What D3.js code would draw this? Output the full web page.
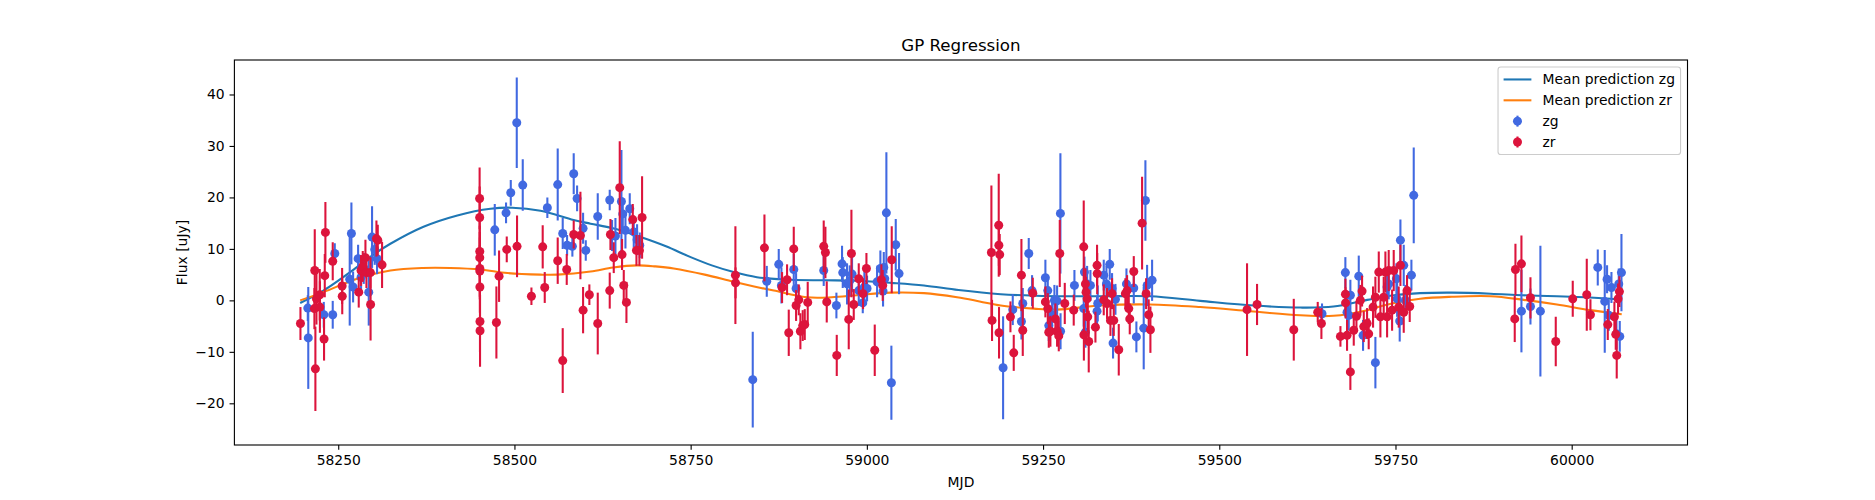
<!DOCTYPE html>
<html>
<head>
<meta charset="utf-8">
<script src="https://cdn.jsdelivr.net/npm/d3@7"></script>
<style>
  body { margin: 0; background: #fff; }
  svg text { font-family: "DejaVu Sans", sans-serif; fill: #000; }
</style>
</head>
<body>
<svg id="chart-svg" width="1875" height="500"></svg>
<script>
// zg band observations (MJD, flux, 1-sigma error)
const zgMjd = [58206.8, 58207.5, 58229.5, 58242.2, 58245.1, 58266.3, 58268.7, 58271.1, 58278.2, 58282.4, 58286.2, 58293.3, 58298.0, 58301.8, 58305.1,
  58472.1, 58488.1, 58494.8, 58503.3, 58511.8, 58546.7, 58561.4, 58568.5, 58574.7, 58582.2, 58584.1, 58588.9, 58597.4, 58601.2, 58618.2, 58635.2,
  58638.5, 58643.3, 58651.8, 58653.7, 58657.5, 58663.6, 58669.3, 58674.0, 58677.8,
  58838.1, 58858.0, 58875.0, 58878.8, 58896.3, 58899.6, 58938.8, 58956.8, 58964.8, 58965.8, 58971.9, 58975.7, 58979.0, 58988.5, 58994.2, 58996.5, 59000.3, 59014.5, 59019.2, 59023.0, 59024.0, 59025.4, 59027.7, 59034.8, 59041.0, 59045.7,
  59193.3, 59207.0, 59219.3, 59221.2, 59229.7, 59234.4, 59253.3, 59256.7, 59258.1, 59262.8, 59266.1, 59269.9, 59274.6, 59274.8, 59294.5, 59307.7, 59308.7, 59310.1, 59312.5, 59317.2, 59326.6, 59327.6, 59336.1, 59339.9, 59344.6, 59347.9, 59349.3, 59352.7, 59368.3, 59378.7, 59382.4, 59392.8, 59395.2, 59397.6, 59404.7,
  59645.8, 59678.9, 59681.3, 59683.7, 59686.0, 59697.9, 59704.0, 59721.5, 59738.1, 59740.4, 59751.3, 59752.3, 59756.0, 59757.0, 59761.7, 59764.1, 59772.6, 59775.9,
  59928.7, 59941.5, 59955.6, 60037.0, 60046.9, 60050.2, 60052.6, 60056.4, 60063.5, 60066.8, 60068.2, 60070.6];
const zgFlux = [-1.5, -7.3, -2.8, -2.8, 9.1, 4.1, 13.0, 2.6, 8.1, 4.5, 6.2, 1.6, 12.3, 9.9, 8.1,
  13.7, 17.0, 20.9, 34.5, 22.4, 18.0, 22.5, 13.0, 10.7, 10.5, 24.6, 19.8, 14.0, 9.7, 16.3, 19.5,
  12.6, 12.5, 19.2, 16.8, 13.6, 17.8, 13.3, 11.8, 10.7,
  -15.4, 3.7, 7.0, 2.9, 6.0, 2.3, 5.8, -1.0, 7.1, 5.4, 3.2, 3.8, 5.1, 1.9, -0.5, 2.6, 2.3, 3.6, 6.2, 1.8, 6.4, 4.2, 17.0, -16.0, 10.8, 5.2,
  -13.1, -1.8, -4.1, -0.6, 9.1, 1.9, 4.4, 1.9, -4.9, -2.9, 0.0, -0.1, 16.9, -6.0, 2.9, -1.6, 5.5, -6.2, 3.2, 2.9, -2.1, -0.6, 4.9, 3.2, 7.0, 2.3, -8.3, 0.2, 3.2, 2.4, -7.1, -5.4, 19.4, 2.9, 3.9,
  -2.6, 5.4, -2.3, -2.9, 1.0, 4.7, -6.8, -12.1, 2.6, 3.2, 4.2, 0.3, -4.0, 11.7, 6.8, 0.0, 4.9, 20.4,
  -2.1, -1.2, -2.1, 6.4, -0.2, 4.1, -2.9, 2.5, -6.5, 3.2, -7.0, 5.4];
const zgErr = [2.5, 9.9, 2.5, 2.7, 2.0, 9.0, 6.0, 3.0, 2.7, 3.0, 3.0, 6.5, 6.0, 3.0, 3.0,
  5.0, 2.0, 2.5, 8.8, 5.0, 2.0, 7.0, 3.0, 2.0, 2.0, 4.0, 2.5, 3.0, 2.0, 4.5, 2.0,
  3.0, 3.5, 10.0, 3.0, 3.5, 3.0, 3.0, 3.0, 2.5,
  9.3, 3.0, 3.0, 3.5, 3.0, 3.0, 3.0, 2.5, 3.5, 3.0, 4.0, 3.0, 3.5, 3.0, 2.0, 3.0, 2.5, 3.0, 3.5, 3.0, 3.0, 3.0, 11.8, 7.2, 5.0, 4.0,
  10.0, 3.0, 3.5, 3.0, 3.0, 3.0, 3.5, 3.0, 3.0, 3.5, 3.0, 3.0, 11.7, 3.5, 3.0, 3.5, 3.0, 3.0, 3.5, 3.0, 3.0, 3.5, 3.0, 3.5, 3.0, 3.0, 3.0, 3.0, 3.0, 3.0, 3.0, 8.0, 7.8, 4.0, 4.0,
  2.0, 3.0, 4.0, 3.0, 3.0, 4.0, 3.0, 5.0, 3.5, 3.0, 3.0, 3.5, 4.0, 4.0, 4.0, 3.0, 3.0, 9.3,
  8.0, 3.5, 12.7, 3.5, 10.0, 2.7, 3.0, 3.0, 3.0, 3.0, 3.0, 7.5];

// zr band observations (MJD, flux, 1-sigma error)
const zrMjd = [58196.4, 58216.2, 58216.7, 58217.6, 58219.1, 58223.8, 58224.0, 58229.9, 58230.9, 58231.8, 58242.2, 58255.5, 58255.7, 58279.1, 58282.4, 58284.8, 58288.6, 58290.0, 58295.7, 58295.9, 58304.2, 58306.1, 58312.2,
  58450.6, 58450.7, 58450.8, 58450.8, 58450.9, 58450.9, 58451.0, 58451.1, 58451.2,
  58474.4, 58478.2, 58489.1, 58503.7, 58524.1, 58540.1, 58543.0, 58561.4, 58568.5, 58574.2, 58584.1, 58593.6, 58597.4, 58606.3, 58618.2, 58635.2, 58636.2,
  58640.9, 58649.4, 58652.7, 58655.1, 58658.9, 58667.9, 58673.1, 58677.3, 58681.1, 58813.5, 58813.7, 58854.7, 58879.7, 58886.8, 58889.2, 58896.3, 58899.6, 58903.4, 58905.7, 58909.0, 58911.9, 58916.1,
  58938.8, 58941.2, 58943.1, 58957.3, 58974.3, 58978.1, 58981.4, 58988.5, 58994.6, 58999.4, 59011.2, 59020.6, 59022.5, 59035.3, 59176.7, 59177.6, 59187.1, 59187.3, 59187.5, 59188.5,
  59203.7, 59208.4, 59219.3, 59221.2, 59235.4, 59253.3, 59256.7, 59258.1, 59260.4, 59267.5, 59269.9, 59272.3, 59273.7, 59280.8, 59293.5, 59307.7, 59307.9, 59310.1, 59311.0, 59312.5,
  59313.4, 59314.8, 59324.3, 59326.6, 59326.8, 59336.1, 59340.8, 59345.6, 59347.9, 59350.3, 59357.4, 59366.8, 59369.2, 59371.6, 59373.0, 59378.7, 59390.5, 59396.2, 59399.9, 59402.3,
  59539.4, 59553.6, 59605.7, 59639.7, 59644.9,
  59671.9, 59679.0, 59679.2, 59681.3, 59686.0, 59690.8, 59694.6, 59700.2, 59702.6, 59705.0, 59709.7, 59712.0, 59718.2, 59721.5, 59726.3, 59728.6, 59733.3, 59735.7, 59738.1, 59740.4,
  59745.2, 59747.5, 59754.6, 59757.0, 59761.7, 59766.4, 59770.2,
  59919.2, 59920.2, 59928.7, 59941.5, 59977.4, 60001.5, 60021.4, 60026.6, 60051.2, 60060.6, 60062.5, 60063.9, 60065.8, 60067.7];
const zrFlux = [-4.5, -1.6, 5.8, -13.3, 0.3, 1.1, -1.3, -7.5, 4.8, 13.2, 7.6, 2.8, 0.8, 1.6, 5.8, 6.6, 8.3, 5.4, 5.4, -0.8, 12.0, 11.7, 6.9,
  19.8, 16.1, 9.5, 8.3, 6.2, 5.7, 2.6, -4.1, -5.9,
  -4.3, 4.7, 9.9, 10.5, 0.8, 10.4, 2.5, 7.7, -11.7, 6.0, 12.8, 12.6, -1.9, 1.1, -4.5, 1.9, 12.8,
  8.3, 21.9, 8.9, 2.9, -0.4, 15.7, 9.7, 9.7, 16.1, 4.9, 3.4, 10.2, 2.5, 4.0, -6.3, 10.0, -1.0, 0.1, -6.0, -4.9, -4.7, -0.4,
  10.5, 9.3, -0.3, -10.7, -3.7, 9.1, -0.8, 4.2, 1.3, 6.2, -9.7, 4.0, 2.9, 7.9, 9.3, -3.9, 14.6, 10.7, -6.3, 8.9,
  -3.2, -10.2, 4.9, -5.8, 1.4, -0.3, -1.6, -6.2, -6.0, -3.6, -6.0, -6.9, 9.1, -0.6, -1.9, 10.4, -6.7, 3.2, 1.6, 0.3,
  -3.2, -8.0, -5.2, 6.8, 5.2, 0.1, -0.6, -3.9, 1.3, -3.9, -9.6, 1.3, 1.9, -1.6, -3.6, 5.6, 15.0, 1.3, -2.8, -5.7,
  -1.8, -0.8, -5.7, -2.3, -4.5,
  -7.0, 1.2, -0.5, -6.8, -13.9, -5.8, -3.1, 0.0, 1.8, -5.1, -4.5, -6.5, -1.3, 0.6, 5.5, -3.2, 0.6, 5.5, -3.2, 5.8,
  -1.9, 5.8, -1.3, 6.8, -2.3, 1.9, -1.2,
  -3.6, 6.0, 7.1, 0.5, -8.0, 0.3, 1.1, -2.8, -4.7, -3.2, -6.6, -10.7, 0.3, 1.7];
const zrErr = [3.2, 4.0, 8.0, 8.2, 5.0, 5.0, 5.0, 4.2, 4.2, 5.9, 3.7, 3.5, 3.5, 3.0, 3.0, 3.0, 3.5, 3.0, 3.0, 7.0, 3.5, 3.0, 4.5,
  6.0, 6.0, 5.0, 5.0, 6.0, 5.0, 5.0, 6.0, 7.0,
  7.0, 5.0, 2.5, 6.0, 1.7, 4.2, 3.0, 4.5, 6.3, 3.0, 2.7, 8.5, 4.5, 2.0, 6.0, 3.5, 3.0,
  3.0, 9.0, 3.0, 3.0, 4.0, 3.0, 3.0, 3.0, 8.0, 9.5, 3.0, 6.5, 3.0, 3.0, 4.5, 4.3, 3.0, 3.0, 3.5, 3.0, 3.0, 4.0,
  5.0, 5.0, 4.0, 4.0, 5.8, 8.5, 3.0, 3.0, 3.0, 3.0, 5.0, 3.0, 3.0, 6.5, 13.0, 4.0, 10.0, 4.0, 5.0, 4.0,
  3.0, 3.5, 7.0, 5.0, 3.0, 3.0, 3.0, 3.0, 3.0, 3.0, 3.0, 3.0, 6.5, 4.0, 3.0, 9.0, 5.0, 3.0, 3.0, 3.0,
  3.0, 6.0, 3.0, 4.0, 4.0, 3.0, 3.0, 3.0, 3.0, 3.0, 5.0, 3.0, 3.0, 3.0, 3.0, 3.0, 9.0, 3.0, 3.0, 4.5,
  9.0, 4.0, 6.0, 2.0, 3.0,
  2.0, 3.0, 3.0, 3.0, 3.5, 3.0, 3.0, 3.0, 3.0, 3.0, 3.0, 3.0, 4.0, 4.0, 4.0, 4.0, 4.0, 4.0, 4.0, 4.0,
  4.0, 4.0, 4.0, 4.0, 4.0, 3.0, 3.0,
  4.5, 5.0, 5.5, 4.0, 4.8, 3.5, 7.0, 3.0, 3.0, 3.0, 3.0, 4.5, 3.0, 3.0];

// GP mean predictions
const gpMjdZg = [58196, 58229, 58277, 58300, 58324, 58371, 58419, 58466, 58497, 58537, 58584, 58608, 58640, 58679, 58715, 58750, 58780, 58811, 58844, 58892, 58940, 58986, 59035, 59081, 59130, 59190, 59240, 59284, 59340, 59402, 59473, 59549, 59615, 59662, 59710, 59748, 59785, 59830, 59885, 59930, 59979, 60020, 60055, 60071];
const gpZg = [-0.5, 1.9, 6.5, 8.9, 11.0, 14.3, 16.5, 17.8, 18.0, 17.4, 15.6, 14.9, 14.0, 12.3, 10.5, 8.4, 6.8, 5.5, 4.5, 4.0, 3.9, 3.8, 3.4, 2.9, 2.0, 1.2, 0.9, 0.8, 0.8, 0.8, -0.1, -1.0, -1.4, -1.2, 0.1, 1.0, 1.4, 1.5, 1.3, 1.0, 0.8, 0.6, 0.3, 0.1];
const gpMjdZr = [58196, 58229, 58277, 58324, 58370, 58409, 58452, 58490, 58537, 58561, 58608, 58640, 58674, 58700, 58726, 58770, 58811, 58840, 58868, 58915, 58950, 58986, 59033, 59081, 59128, 59160, 59190, 59237, 59270, 59331, 59402, 59473, 59544, 59615, 59662, 59710, 59733, 59785, 59830, 59885, 59932, 59979, 60026, 60071];
const gpZr = [0.0, 1.6, 4.2, 5.8, 6.3, 6.3, 6.0, 5.3, 5.0, 5.0, 5.6, 6.4, 6.8, 6.6, 6.2, 5.0, 3.6, 2.7, 1.9, 0.6, 0.6, 1.0, 1.5, 1.4, 0.6, -0.2, -1.0, -1.6, -1.8, -1.0, -0.8, -1.3, -2.1, -2.9, -3.0, -1.9, -1.0, 0.3, 0.7, 0.8, 0.1, -0.8, -1.9, -2.7];

const xTicks = [58250, 58500, 58750, 59000, 59250, 59500, 59750, 60000];
const yTicks = [-20, -10, 0, 10, 20, 30, 40];

// figure geometry (matplotlib default subplot box on a 1875x500 canvas)
const W = 1875, H = 500;
const margin = {left: 234.4, right: 1875 - 1687.5, top: 60, bottom: 500 - 445};
const x0 = margin.left, x1 = W - margin.right, y0 = margin.top, y1 = H - margin.bottom;
const fs = 13.9;           // 10pt at 100 dpi
const tickLen = 4.86, tickPad = 4.86;
const markerR = 4.5;

const svg = d3.select('#chart-svg');
svg.append("rect").attr("width", W).attr("height", H).attr("fill", "#fff");

const zg = zgMjd.map((d, i) => ({x: d, y: zgFlux[i], e: zgErr[i]}));
const zr = zrMjd.map((d, i) => ({x: d, y: zrFlux[i], e: zrErr[i]}));
const all = zg.concat(zr);

// 5% margins like matplotlib autoscale
const xMin = d3.min(all, d => d.x), xMax = d3.max(all, d => d.x);
const yMin = d3.min(all, d => d.y - d.e), yMax = d3.max(all, d => d.y + d.e);
const xPad = (xMax - xMin) * 0.05, yPad = (yMax - yMin) * 0.05;

const xScale = d3.scaleLinear().domain([xMin - xPad, xMax + xPad]).range([x0, x1]);
const yScale = d3.scaleLinear().domain([yMin - yPad, yMax + yPad]).range([y1, y0]);

const plot = svg.append("g");
plot.append("clipPath").attr("id", "clip")
    .append("rect").attr("x", x0).attr("y", y0).attr("width", x1 - x0).attr("height", y1 - y0);
const inner = plot.append("g").attr("clip-path", "url(#clip)");

// GP mean lines
const line = d3.line()
    .x(d => xScale(d[0]))
    .y(d => yScale(d[1]))
    .curve(d3.curveCatmullRom.alpha(0.5));

inner.append("path")
    .datum(gpMjdZg.map((m, i) => [m, gpZg[i]]))
    .attr("fill", "none").attr("stroke", "#1f77b4").attr("stroke-width", 2.08)
    .attr("d", line);
inner.append("path")
    .datum(gpMjdZr.map((m, i) => [m, gpZr[i]]))
    .attr("fill", "none").attr("stroke", "#ff7f0e").attr("stroke-width", 2.08)
    .attr("d", line);

// errorbar series: bars first, markers on top
function drawErrorbars(data, color) {
    const g = inner.append("g");
    g.selectAll("line").data(data).join("line")
        .attr("x1", d => xScale(d.x)).attr("x2", d => xScale(d.x))
        .attr("y1", d => yScale(d.y - d.e)).attr("y2", d => yScale(d.y + d.e))
        .attr("stroke", color).attr("stroke-width", 2.08);
    g.selectAll("circle").data(data).join("circle")
        .attr("cx", d => xScale(d.x)).attr("cy", d => yScale(d.y))
        .attr("r", markerR).attr("fill", color);
}
drawErrorbars(zg, "#4169e1");
drawErrorbars(zr, "#dc143c");

// axes
const xAxis = svg.append("g")
    .attr("transform", "translate(0," + y1 + ")")
    .call(d3.axisBottom(xScale).tickValues(xTicks).tickSize(tickLen).tickPadding(tickPad).tickFormat(d3.format("d")));
const yAxis = svg.append("g")
    .attr("transform", "translate(" + x0 + ",0)")
    .call(d3.axisLeft(yScale).tickValues(yTicks).tickSize(tickLen).tickPadding(tickPad).tickFormat(d3.format("d")));

[xAxis, yAxis].forEach(a => {
    a.select(".domain").remove();
    a.attr("font-family", "DejaVu Sans").attr("font-size", fs);
    a.selectAll(".tick line").attr("stroke", "#000").attr("stroke-width", 1.11);
    a.selectAll(".tick text").attr("fill", "#000");
});

// spines
svg.append("rect")
    .attr("x", x0).attr("y", y0).attr("width", x1 - x0).attr("height", y1 - y0)
    .attr("fill", "none").attr("stroke", "#000").attr("stroke-width", 1.11);

// title and labels
svg.append("text")
    .attr("x", (x0 + x1) / 2).attr("y", 50.5)
    .attr("text-anchor", "middle").attr("font-size", 16.67)
    .text("GP Regression");
svg.append("text")
    .attr("x", (x0 + x1) / 2).attr("y", 487)
    .attr("text-anchor", "middle").attr("font-size", fs)
    .text("MJD");
svg.append("text")
    .attr("transform", "translate(186.5," + ((y0 + y1) / 2) + ") rotate(-90)")
    .attr("text-anchor", "middle").attr("font-size", fs)
    .text("Flux [uJy]");

// legend (upper right)
const legendItems = [
    {label: "Mean prediction zg", type: "line", color: "#1f77b4"},
    {label: "Mean prediction zr", type: "line", color: "#ff7f0e"},
    {label: "zg", type: "err", color: "#4169e1"},
    {label: "zr", type: "err", color: "#dc143c"}
];
const pad = 0.4 * fs, handleLen = 2 * fs, handlePad = 0.8 * fs, rowGap = 0.5 * fs;
const legend = svg.append("g");
const frame = legend.append("rect");
const rows = legend.selectAll("g.row").data(legendItems).join("g").attr("class", "row");
rows.append("text")
    .attr("font-size", fs)
    .attr("dy", "0.36em")
    .text(d => d.label);
let textW = 0;
rows.select("text").each(function() { textW = Math.max(textW, this.getComputedTextLength()); });

const legW = pad + handleLen + handlePad + textW + pad;
const legH = pad + legendItems.length * fs + (legendItems.length - 1) * rowGap + pad;
const legX = x1 - 0.5 * fs - legW, legY = y0 + 0.5 * fs;

frame.attr("x", legX).attr("y", legY).attr("width", legW).attr("height", legH)
    .attr("rx", 2.8).attr("ry", 2.8)
    .attr("fill", "#fff").attr("fill-opacity", 0.8)
    .attr("stroke", "#cccccc").attr("stroke-width", 1.11);

rows.attr("transform", (d, i) => "translate(" + (legX + pad) + "," + (legY + pad + fs / 2 + i * (fs + rowGap)) + ")");
rows.select("text").attr("x", handleLen + handlePad);
rows.filter(d => d.type === "line").append("line")
    .attr("x1", 0).attr("x2", handleLen).attr("y1", 0).attr("y2", 0)
    .attr("stroke", d => d.color).attr("stroke-width", 2.08);
const errRows = rows.filter(d => d.type === "err");
errRows.append("line")
    .attr("x1", handleLen / 2).attr("x2", handleLen / 2).attr("y1", -5.5).attr("y2", 5.5)
    .attr("stroke", d => d.color).attr("stroke-width", 2.08);
errRows.append("circle")
    .attr("cx", handleLen / 2).attr("cy", 0).attr("r", markerR)
    .attr("fill", d => d.color);
</script>
</body>
</html>
